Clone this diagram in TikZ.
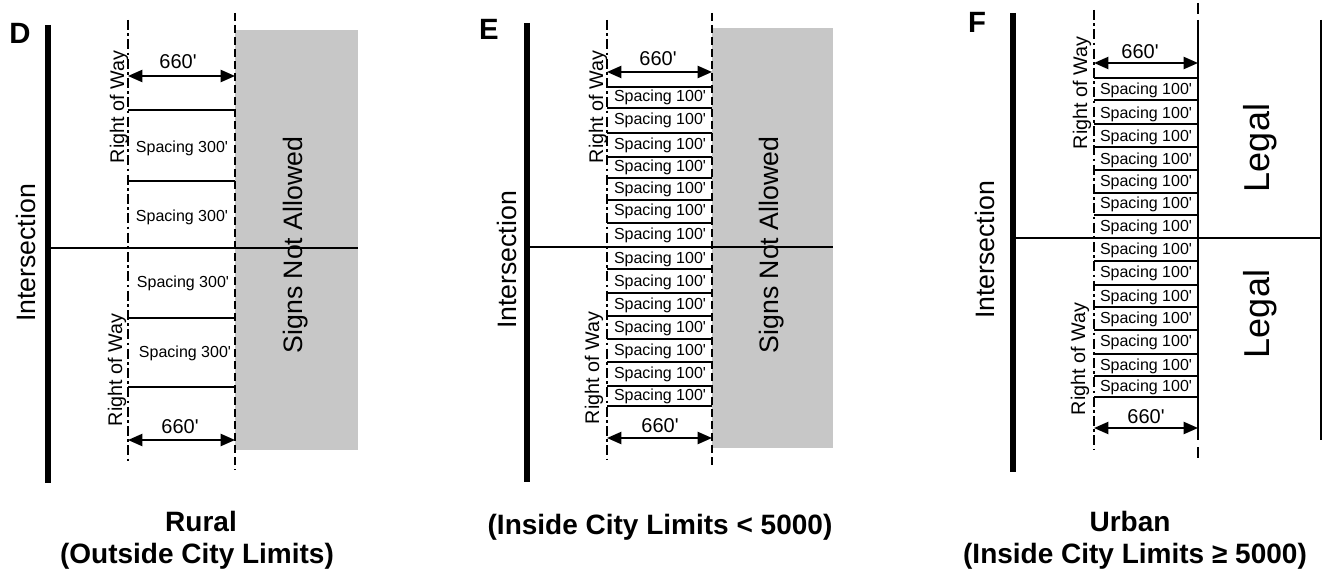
\documentclass[tikz,border=0pt]{standalone}
\usepackage{fontspec}
\setmainfont{Liberation Sans}
\usepackage{tikz}
\usetikzlibrary{arrows.meta}
\newcommand{\ftmark}{\textquotesingle}

\begin{document}
\begin{tikzpicture}[x=0.75pt,y=-0.75pt,>={Triangle[length=3.8mm,width=3.2mm]},
  bar/.style={line width=5pt},
  road/.style={line width=1.5pt},
  rowline/.style={line width=1.5pt,dash pattern=on 7.5pt off 2.5pt on 2pt off 2.5pt},
  limitline/.style={line width=1.5pt,dash pattern=on 6pt off 3pt},
  spacer/.style={line width=1.2pt},
  shade/.style={fill=black!22,draw=none},
  dim/.style={<->,line width=1.5pt},
  paneltxt/.style={font=\fontsize{22}{26}\selectfont\bfseries,inner sep=0pt},
  bigtxt/.style={font=\fontsize{20}{24}\selectfont,rotate=90,inner sep=0pt},
  legaltxt/.style={font=\fontsize{27}{32}\selectfont,rotate=90,inner sep=0pt},
  rowtxt/.style={font=\fontsize{14.8}{17}\selectfont,rotate=90,inner sep=0pt},
  feettxt/.style={font=\fontsize{15}{18}\selectfont,inner sep=0pt},
  spacetxt/.style={font=\fontsize{12}{14}\selectfont,inner sep=0pt},
  captxt/.style={font=\fontsize{21}{24}\selectfont\bfseries,inner sep=0pt}]
  \useasboundingbox (0,0) rectangle (1327,581);

  % D: rural
  \fill[shade] (235,30) rectangle (358,450);
  \draw[bar] (48,25) -- (48,483);
  \draw[road] (48,247.5) -- (358,247.5);
  \draw[rowline] (128,20) -- (128,462);
  \draw[limitline] (235,13) -- (235,470);
  \draw[spacer] (128,110) -- (235,110);
  \draw[spacer] (128,181) -- (235,181);
  \draw[spacer] (128,318) -- (235,318);
  \draw[spacer] (128,387) -- (235,387);
  \coordinate (dtopl) at (128,76);
  \coordinate (dtopr) at (235,76);
  \coordinate (dbotl) at (128,440);
  \coordinate (dbotr) at (235,440);
  \draw[dim] (dtopl) -- (dtopr);
  \draw[dim] (dbotl) -- (dbotr);
  \node[paneltxt] (dlab) at (20,33) {D};
  \node[bigtxt] (dint) at (26,253) {Intersection};
  \node[bigtxt] (dsigns) at (296,245) {Signs Not Allowed};
  \node[rowtxt] (drowtop) at (119,107) {Right of Way};
  \node[rowtxt] (drowbot) at (117,370) {Right of Way};
  \node[feettxt] (dfttop) at (178,62) {660\ftmark};
  \node[feettxt] (dftbot) at (180,427) {660\ftmark};
  \node[spacetxt] (ds1) at (182,148) {Spacing 300\ftmark};
  \node[spacetxt] (ds2) at (182,217) {Spacing 300\ftmark};
  \node[spacetxt] (ds3) at (183,283) {Spacing 300\ftmark};
  \node[spacetxt] (ds4) at (185,353) {Spacing 300\ftmark};
  \node[captxt] (dcap1) at (201,521) {Rural};
  \node[captxt] (dcap2) at (197,556) {(Outside City Limits)};

  % E: inside city limits < 5000
  \fill[shade] (712,28) rectangle (833,448);
  \draw[bar] (527,23) -- (527,482);
  \draw[road] (527,247) -- (833,247);
  \draw[rowline] (607,20) -- (607,460);
  \draw[limitline] (712,13) -- (712,467);
  \foreach \y in {87,108,133,157,178,200,223,269,293,316,339,362,386,406}
    \draw[spacer] (607,\y) -- (712,\y);
  \coordinate (etopl) at (607,72);
  \coordinate (etopr) at (712,72);
  \coordinate (ebotl) at (607,438);
  \coordinate (ebotr) at (712,438);
  \draw[dim] (etopl) -- (etopr);
  \draw[dim] (ebotl) -- (ebotr);
  \node[paneltxt] (elab) at (489,29) {E};
  \node[bigtxt] (eint) at (507,260) {Intersection};
  \node[bigtxt] (esigns) at (772,245) {Signs Not Allowed};
  \node[rowtxt] (erowtop) at (598,107) {Right of Way};
  \node[rowtxt] (erowbot) at (594,368) {Right of Way};
  \node[feettxt] (efttop) at (658,59) {660\ftmark};
  \node[feettxt] (eftbot) at (660,426) {660\ftmark};
  \foreach \y [count=\i] in {97,120,145,167,189,211,235,259,282,305,328,351,374,396}
    \node[spacetxt] (es\i) at (660,\y) {Spacing 100\ftmark};
  \node[captxt] (ecap) at (660,527) {(Inside City Limits < 5000)};

  % F: urban
  \draw[bar] (1013,13) -- (1013,472);
  \draw[road] (1013,238) -- (1321,238);
  \draw[rowline] (1094,10) -- (1094,450);
  \draw[road] (1198,20) -- (1198,440);
  \draw[road] (1198,3) -- (1198,14);
  \draw[road] (1198,447) -- (1198,458);
  \draw[line width=1.2pt] (1321,20) -- (1321,440);
  \foreach \y in {78,100,124,147,170,193,215,261,285,307,330,354,376,397}
    \draw[spacer] (1094,\y) -- (1198,\y);
  \coordinate (ftopl) at (1094,63);
  \coordinate (ftopr) at (1198,63);
  \coordinate (fbotl) at (1094,428);
  \coordinate (fbotr) at (1198,428);
  \draw[dim] (ftopl) -- (ftopr);
  \draw[dim] (fbotl) -- (fbotr);
  \node[paneltxt] (flab) at (977,22) {F};
  \node[bigtxt] (fint) at (985,250) {Intersection};
  \node[legaltxt] (flegal1) at (1260,148) {Legal};
  \node[legaltxt] (flegal2) at (1260,314) {Legal};
  \node[rowtxt] (frowtop) at (1082,93) {Right of Way};
  \node[rowtxt] (frowbot) at (1080,359) {Right of Way};
  \node[feettxt] (fttop) at (1140,52) {660\ftmark};
  \node[feettxt] (ftbot) at (1146,417) {660\ftmark};
  \foreach \y [count=\i] in {90,114,137,160,182,204,227,250,273,297,319,342,366,387}
    \node[spacetxt] (fs\i) at (1146,\y) {Spacing 100\ftmark};
  \node[captxt] (fcap1) at (1130,521) {Urban};
  \node[captxt] (fcap2) at (1135,556) {(Inside City Limits ≥ 5000)};
\end{tikzpicture}
\end{document}
